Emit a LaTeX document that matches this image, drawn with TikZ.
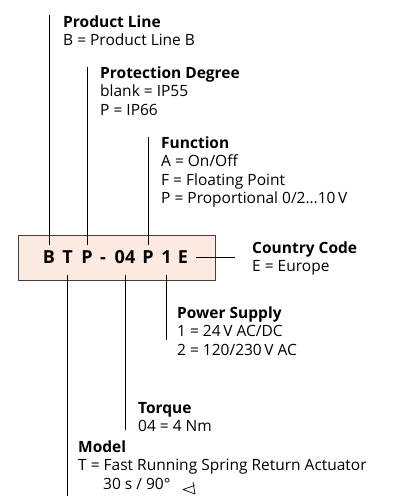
\documentclass[tikz,border=0pt]{standalone}
\usepackage{fontspec}
\setmainfont{Open Sans}
\usepackage{tikz}
\definecolor{boxfill}{HTML}{FCE9DF}

\begin{document}
\begin{tikzpicture}[x=1pt, y=-1pt,
codebox/.style={rectangle, draw=black!75, fill=boxfill, thick, minimum width=197pt, minimum height=45pt},
letter/.style={anchor=base, font=\fontsize{18}{18}\selectfont\bfseries, inner xsep=1pt, inner ysep=5pt, text height=13pt, text depth=6pt},
label/.style={anchor=north west, align=left, inner sep=0pt, font=\fontsize{15.5}{18.5}\selectfont},
lead/.style={draw=black, line width=0.8pt}
]
\useasboundingbox (0,0) rectangle (396,496);
%Nodes
\node[codebox]   (code)   at (116.5,257.5)   {};
\node[letter]    (cB)     at (49,263.5)      {B};
\node[letter]    (cT)     at (67.5,263.5)    {T};
\node[letter]    (cP)     at (87,263.5)      {P};
\node[letter]    (cdash)  at (103,263.5)     {-};
\node[letter]    (c04)    at (125,263.5)     {04};
\node[letter]    (cF)     at (148,263.5)     {P};
\node[letter]    (c1)     at (166.5,263.5)   {1};
\node[letter]    (cE)     at (183,263.5)     {E};
\node[label]     (prod)   at (63,15.5)       {\textbf{Product Line}\\B = Product Line B};
\node[label]     (prot)   at (100,66.5)      {\textbf{Protection Degree}\\blank = IP55\\P = IP66};
\node[label]     (func)   at (161,136.5)     {\textbf{Function}\\A = On/Off\\F = Floating Point\\P = Proportional 0/2…10\,V};
\node[label]     (ctry)   at (252,241.5)     {\textbf{Country Code}\\E = Europe};
\node[label]     (pwr)    at (177,306.5)     {\textbf{Power Supply}\\1 = 24\,V AC/DC\\2 = 120/230\,V AC};
\node[label]     (torq)   at (138,402)       {\textbf{Torque}\\04 = 4 Nm};
\node[label]     (model)  at (78,440.5)      {\textbf{Model}\\T = Fast Running Spring Return Actuator\\\hspace{25pt}30 s / 90\textdegree};
\coordinate      (ctryend) at (235,257.5);
%Lines
\draw[lead] (cB.north) -- (cB.north |- 0,15);
\draw[lead] (cP.north) -- (cP.north |- 0,67);
\draw[lead] (cF.north) -- (cF.north |- 0,137);
\draw[lead] ([xshift=7pt]cE.east |- code.east) -- (ctryend);
\draw[lead] (c1.south) -- (c1.south |- 0,340);
\draw[lead] (c04.south) -- (c04.south |- 0,430);
\draw[lead] (cT.south) -- (cT.south |- 0,496);
%Spring return symbol
\draw[line width=0.7pt, line join=round] (193,482) -- (195,494) -- (183,489.5) -- (194.5,485.5);
\end{tikzpicture}
\end{document}
